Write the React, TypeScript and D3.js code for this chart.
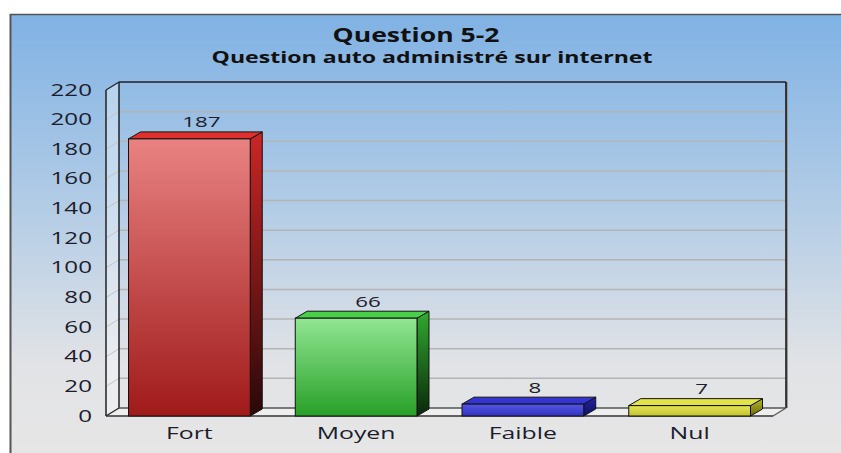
import React from "react";
import * as d3 from "d3";

const categories = ["Fort", "Moyen", "Faible", "Nul"];
const values = [187, 66, 8, 7];
const yTicks = [0, 20, 40, 60, 80, 100, 120, 140, 160, 180, 200, 220];
const titleText = "Question 5-2";
const subtitleText = "Question auto administré sur internet";

const palettes = [
  { f1: "#e98282", f2: "#a01a1a", top: "#e0302e", s1: "#cc2626", s2: "#2a0808" },
  { f1: "#92e692", f2: "#28a028", top: "#48d048", s1: "#30aa30", s2: "#0a280a" },
  { f1: "#5656e4", f2: "#3232c0", top: "#3434d0", s1: "#2424a8", s2: "#101060" },
  { f1: "#e4e458", f2: "#c4c430", top: "#e2e24a", s1: "#b4b424", s2: "#6c6c10" },
];

const W = 841;
const H = 453;
const FONT = "'Open Sans', 'Noto Sans', sans-serif";

export default function App() {
  const front = { x0: 106, x1: 773, y0: 416, y1: 90 };
  const wdx = 13, wdy = 8; // wall depth
  const bdx = 12, bdy = 7; // bar depth
  const y = d3.scaleLinear().domain([0, 220]).range([front.y0, front.y1]);
  const x = d3.scaleBand<string>().domain(categories).range([front.x0, front.x1]).paddingInner(0.27).paddingOuter(0.135);
  const bw = x.bandwidth();

  const txt = (s: string | number, tx: number, ty: number, opts: any = {}) => (
    <text
      transform={`translate(${tx},${ty}) scale(${opts.sx ?? 1.5},1)`}
      textAnchor={opts.anchor ?? "middle"}
      fontFamily={FONT}
      fontSize={opts.size ?? 14}
      fontWeight={opts.weight ?? "normal"}
      fill={opts.fill ?? "#1c1c2c"}
    >
      {s}
    </text>
  );

  return (
    <svg width={W} height={H} style={{ position: "absolute", left: 0, top: 0 }}>
      <defs>
        <linearGradient id="bg" x1="0" y1="0" x2="0" y2="1">
          <stop offset="0" stopColor="#80b2e4" />
          <stop offset="0.45" stopColor="#b4cde6" />
          <stop offset="0.8" stopColor="#e2e3e6" />
          <stop offset="1" stopColor="#e6e6e6" />
        </linearGradient>
        {palettes.map((p, i) => (
          <React.Fragment key={i}>
            <linearGradient id={`f${i}`} x1="0" y1="0" x2="0" y2="1">
              <stop offset="0" stopColor={p.f1} />
              <stop offset="1" stopColor={p.f2} />
            </linearGradient>
            <linearGradient id={`s${i}`} x1="0" y1="0" x2="0" y2="1">
              <stop offset="0" stopColor={p.s1} />
              <stop offset="1" stopColor={p.s2} />
            </linearGradient>
          </React.Fragment>
        ))}
      </defs>
      <rect x={0} y={0} width={W} height={H} fill="#ffffff" />
      <rect x={11} y={15} width={W - 11} height={H - 15} fill="url(#bg)" />
      <line x1={10.5} y1={14} x2={10.5} y2={H} stroke="#555" strokeWidth={2} />
      <line x1={10} y1={14.5} x2={W} y2={14.5} stroke="#555" strokeWidth={1.5} />

      {txt(titleText, 416, 42, { size: 20, weight: "bold", sx: 1.33, fill: "#111" })}
      {txt(subtitleText, 432, 63, { size: 15.5, weight: "bold", sx: 1.49, fill: "#111" })}

      {/* left side wall */}
      <polygon
        points={`${front.x0},${front.y0} ${front.x0 + wdx},${front.y0 - wdy} ${front.x0 + wdx},${front.y1 - wdy} ${front.x0},${front.y1}`}
        fill="#ffffff"
        fillOpacity={0.35}
      />
      {/* floor */}
      <polygon
        points={`${front.x0},${front.y0} ${front.x1},${front.y0} ${front.x1 + wdx},${front.y0 - wdy} ${front.x0 + wdx},${front.y0 - wdy}`}
        fill="#eeeeee"
      />
      {/* gridlines */}
      {yTicks.filter((t) => t > 0 && t < 220).map((t) => (
        <g key={t}>
          <line x1={front.x0 + wdx} x2={front.x1 + wdx} y1={y(t) - wdy} y2={y(t) - wdy} stroke="#b4b4b4" strokeWidth={1.5} />
          <line x1={front.x0} x2={front.x0 + wdx} y1={y(t)} y2={y(t) - wdy} stroke="#c4c4c4" strokeWidth={1} />
        </g>
      ))}
      {/* back wall frame */}
      <line x1={front.x0 + wdx} x2={front.x1 + wdx} y1={y(220) - wdy} y2={y(220) - wdy} stroke="#222" strokeWidth={1.5} />
      <line x1={front.x0 + wdx} x2={front.x0 + wdx} y1={y(220) - wdy} y2={y(0) - wdy} stroke="#222" strokeWidth={1.5} />
      <line x1={front.x1 + wdx + 1} x2={front.x1 + wdx + 1} y1={y(220) - wdy} y2={y(0) - wdy} stroke="#999" strokeWidth={2} />
      <line x1={front.x1 + wdx} x2={front.x1 + wdx} y1={y(220) - wdy} y2={y(0) - wdy} stroke="#111" strokeWidth={1.5} />
      <line x1={front.x0 + wdx} x2={front.x1 + wdx} y1={y(0) - wdy} y2={y(0) - wdy} stroke="#555" strokeWidth={1.5} />
      {/* front axis */}
      <line x1={front.x0} x2={front.x0} y1={front.y1} y2={front.y0} stroke="#222" strokeWidth={1.5} />
      <line x1={front.x0} x2={front.x0 + wdx} y1={front.y1} y2={front.y1 - wdy} stroke="#222" strokeWidth={1.2} />
      <line x1={front.x0} x2={front.x0 + wdx} y1={front.y0} y2={front.y0 - wdy} stroke="#222" strokeWidth={1.2} />
      <line x1={front.x1} x2={front.x1 + wdx} y1={front.y0} y2={front.y0 - wdy} stroke="#555" strokeWidth={1.2} />
      <line x1={front.x0} x2={front.x1} y1={front.y0} y2={front.y0} stroke="#333" strokeWidth={1.5} />

      {/* y tick labels */}
      {yTicks.map((t) => (
        <g key={t}>{txt(t, 92, y(t) + 5.5, { anchor: "end", size: 15.5, sx: 1.56 })}</g>
      ))}

      {/* bars */}
      {categories.map((c, i) => {
        const x0 = x(c)!;
        const x1 = x0 + bw;
        const yt = y(values[i]);
        const yb = y(0);
        return (
          <g key={c}>
            <polygon
              points={`${x1},${yb} ${x1 + bdx},${yb - bdy} ${x1 + bdx},${yt - bdy} ${x1},${yt}`}
              fill={`url(#s${i})`}
              stroke="#111"
              strokeWidth={1}
              strokeLinejoin="round"
            />
            <polygon
              points={`${x0},${yt} ${x1},${yt} ${x1 + bdx},${yt - bdy} ${x0 + bdx},${yt - bdy}`}
              fill={palettes[i].top}
              stroke="#111"
              strokeWidth={1}
              strokeLinejoin="round"
            />
            <rect x={x0} y={yt} width={bw} height={yb - yt} fill={`url(#f${i})`} stroke="#111" strokeWidth={1} />
            {txt(values[i], x0 + bw / 2 + bdx, yt - bdy - 4.5, { size: 15, sx: 1.49 })}
            {txt(c, x0 + bw / 2, 439, { size: 15.5, sx: 1.6 })}
          </g>
        );
      })}
    </svg>
  );
}
